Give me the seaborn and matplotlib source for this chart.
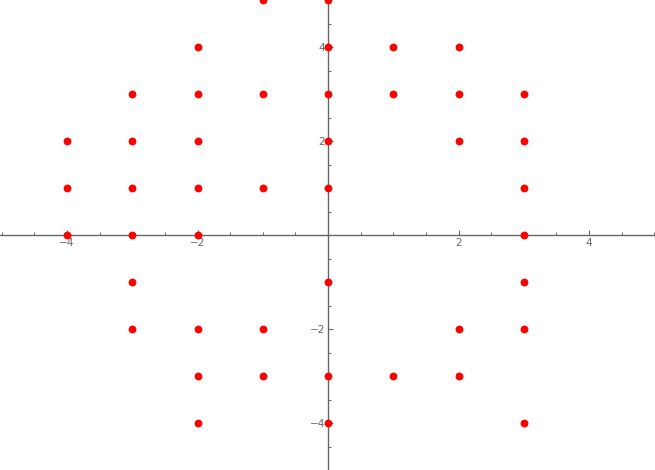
import numpy as np
import pandas as pd
import seaborn as sns
import matplotlib.pyplot as plt
from matplotlib.ticker import MultipleLocator, FixedLocator

# points, row by row
xs = [-1, 0,
      -2, 0, 1, 2,
      -3, -2, -1, 0, 1, 2, 3,
      -4, -3, -2, 0, 2, 3,
      -4, -3, -2, -1, 0, 3,
      -4, -3, -2, 3,
      -3, 0, 3,
      -3, -2, -1, 2, 3,
      -2, -1, 0, 1, 2,
      -2, 0, 3]
ys = [5, 5,
      4, 4, 4, 4,
      3, 3, 3, 3, 3, 3, 3,
      2, 2, 2, 2, 2, 2,
      1, 1, 1, 1, 1, 1,
      0, 0, 0, 0,
      -1, -1, -1,
      -2, -2, -2, -2, -2,
      -3, -3, -3, -3, -3,
      -4, -4, -4]
major_ticks = [-4, -2, 2, 4]

df = pd.DataFrame({'x': xs, 'y': ys})

sns.set_style('white')
fig = plt.figure(figsize=(6.55, 4.7), dpi=100)
ax = fig.add_axes([0, 0, 1, 1])

sns.scatterplot(data=df, x='x', y='y', ax=ax, color='#ff0000', s=32,
                linewidth=0, zorder=3)

ax.set_xlim(-5.027, 5.011)
ax.set_ylim(-5.0, 5.0)

for side in ['top', 'right']:
    ax.spines[side].set_visible(False)
for side in ['left', 'bottom']:
    ax.spines[side].set_position(('data', 0))
    ax.spines[side].set_color('#666666')
    ax.spines[side].set_linewidth(1.0)

ax.xaxis.set_major_locator(FixedLocator(major_ticks))
ax.yaxis.set_major_locator(FixedLocator(major_ticks))
ax.xaxis.set_minor_locator(MultipleLocator(0.5))
ax.yaxis.set_minor_locator(MultipleLocator(0.5))
ax.set_xticklabels(['\u22124', '\u22122', '2', '4'])
ax.set_yticklabels(['\u22124', '\u22122', '2', '4'])

ax.tick_params(which='major', direction='in', length=3.5, width=0.8,
               color='#666666', labelsize=7.5, labelcolor='#666666', pad=2)
ax.tick_params(which='minor', direction='in', length=2, width=0.7,
               color='#666666')
ax.tick_params(axis='x', which='both', bottom=True)
ax.tick_params(axis='y', which='both', left=True)
ax.set_xlabel('')
ax.set_ylabel('')

fig.savefig('out.png', dpi=100)
